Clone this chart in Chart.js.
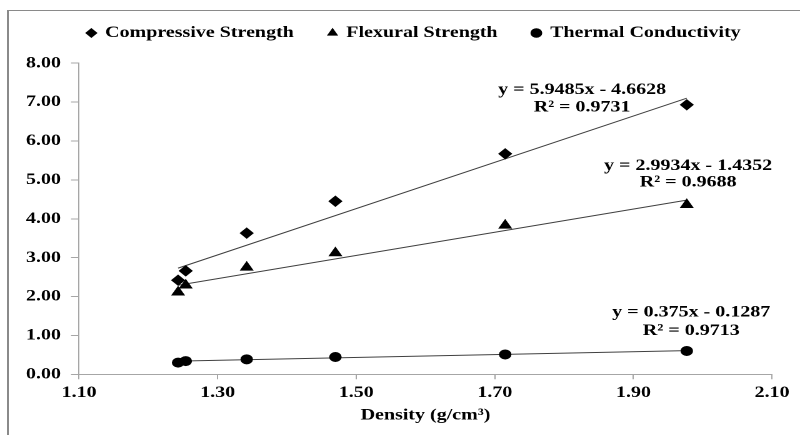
<!DOCTYPE html>
<html lang="en">
<head>
    <meta charset="UTF-8">
    <title>Density vs strength</title>
    <script src="https://cdn.jsdelivr.net/npm/chart.js"></script>
    <style>
        body { margin: 0; background: #fff; overflow: hidden; }
        .moldura { position: absolute; left: 7px; top: 10px; width: 900px; height: 500px;
                   border-left: 2px solid #8a8a8a; border-top: 1px solid #8a8a8a; }
        /* the reference is stretched sideways, so draw narrow and widen */
        .grafico { position: absolute; left: 0; top: 0; width: 640px; height: 435px;
                   transform: scaleX(1.25); transform-origin: 0 0; }
    </style>
</head>
<body>
    <div class="moldura"></div>
    <div class="grafico">
        <canvas id="myChart"></canvas>
    </div>

<script>
    // dados
    const density = [1.243, 1.254, 1.342, 1.470, 1.715, 1.977];
    const compressive = [2.42, 2.66, 3.63, 4.45, 5.67, 6.93];
    const flexural = [2.11, 2.29, 2.75, 3.12, 3.83, 4.36];
    const thermal = [0.30, 0.34, 0.385, 0.445, 0.51, 0.60];

    // linhas de tendência (extremos)
    const trendX = [1.243, 1.977];
    const compressiveFit = [2.73, 7.10];
    const flexuralFit = [2.29, 4.48];
    const thermalFit = [0.34, 0.61];

    const seriesNames = ['Compressive Strength', 'Flexural Strength', 'Thermal Conductivity'];
    const equations = ['y = 5.9485x - 4.6628', 'y = 2.9934x - 1.4352', 'y = 0.375x - 0.1287'];
    const rSquared = ['R² = 0.9731', 'R² = 0.9688', 'R² = 0.9713'];

    const fonte = 'Liberation Serif';

    function pares(xs, ys) {
        return xs.map((x, i) => ({ x: x, y: ys[i] }));
    }

    // onde ficam as equações: [x, linha 1, linha 2] em unidades do gráfico
    const eqAnchor = [
        [1.826, 7.21, 6.76],
        [1.979, 5.26, 4.83],
        [1.9835, 1.48, 1.01]
    ];

    const equacoes = {
        id: 'equacoes',
        afterDatasetsDraw(chart) {
            const ctx = chart.ctx;
            const x = chart.scales.x;
            const y = chart.scales.y;
            ctx.save();
            ctx.font = `bold 16px "${fonte}"`;
            ctx.fillStyle = '#000';
            ctx.textAlign = 'center';
            ctx.textBaseline = 'alphabetic';
            for (let i = 0; i < equations.length; i++) {
                const a = eqAnchor[i];
                ctx.fillText(equations[i], x.getPixelForValue(a[0]), y.getPixelForValue(a[1]));
                ctx.fillText(rSquared[i], x.getPixelForValue(a[0]), y.getPixelForValue(a[2]));
            }
            ctx.restore();
        }
    };

    function pontos(label, ys, estilo, raio) {
        return {
            label: label,
            data: pares(density, ys),
            pointStyle: estilo,
            pointRadius: raio,
            pointHoverRadius: raio,
            backgroundColor: '#000',
            borderColor: '#000',
            borderWidth: 1,
            showLine: false
        };
    }

    function tendencia(ys) {
        return {
            label: 'trend',
            data: pares(trendX, ys),
            showLine: true,
            pointRadius: 0,
            borderColor: '#404040',
            borderWidth: 1,
            fill: false
        };
    }

    const eixoCor = '#a6a6a6';
    const ticksFont = { family: fonte, size: 16, weight: 'bold' };

    new Chart(document.getElementById('myChart'), {
        type: 'scatter',
        data: {
            datasets: [
                pontos(seriesNames[0], compressive, 'rectRot', 5),
                pontos(seriesNames[1], flexural, 'triangle', 5.5),
                pontos(seriesNames[2], thermal, 'circle', 4.5),
                tendencia(compressiveFit),
                tendencia(flexuralFit),
                tendencia(thermalFit)
            ]
        },
        options: {
            responsive: true,
            maintainAspectRatio: false,
            animation: false,
            devicePixelRatio: 2,
            layout: { padding: { left: 15, right: -7.6, top: -3, bottom: 0 } },
            scales: {
                x: {
                    type: 'linear',
                    min: 1.1,
                    max: 2.1,
                    ticks: {
                        stepSize: 0.2,
                        color: '#000',
                        font: ticksFont,
                        padding: 4,
                        maxRotation: 0,
                        callback: v => v.toFixed(2)
                    },
                    grid: { drawOnChartArea: false, drawTicks: true, tickLength: 5, color: eixoCor },
                    border: { color: eixoCor },
                    title: {
                        display: true,
                        text: 'Density (g/cm³)',
                        color: '#000',
                        font: ticksFont,
                        padding: { top: 0, bottom: 10 }
                    },
                    afterFit: s => { s.height = 60.7; }
                },
                y: {
                    min: 0,
                    max: 8,
                    ticks: {
                        stepSize: 1,
                        color: '#000',
                        font: ticksFont,
                        padding: 8,
                        callback: v => v.toFixed(2)
                    },
                    grid: { drawOnChartArea: false, drawTicks: true, tickLength: 6.4, color: eixoCor },
                    border: { color: eixoCor },
                    afterFit: s => { s.width = 48.2; }
                },
                // eixo vazio só para reservar a margem da direita
                margemDireita: {
                    position: 'right',
                    grid: { display: false },
                    border: { display: false },
                    ticks: { display: false },
                    afterFit: s => { s.width = 30; }
                }
            },
            plugins: {
                legend: {
                    position: 'top',
                    labels: {
                        usePointStyle: true,
                        boxWidth: 6,
                        boxHeight: 6,
                        padding: 28,
                        color: '#000',
                        font: ticksFont,
                        filter: item => item.datasetIndex < 3
                    }
                },
                // espaço vazio entre a legenda e o gráfico
                subtitle: {
                    display: true,
                    text: '',
                    weight: 500,
                    font: { size: 1 },
                    padding: { top: 0, bottom: 11 }
                },
                tooltip: { enabled: false }
            }
        },
        plugins: [equacoes]
    });
</script>
</body>
</html>
